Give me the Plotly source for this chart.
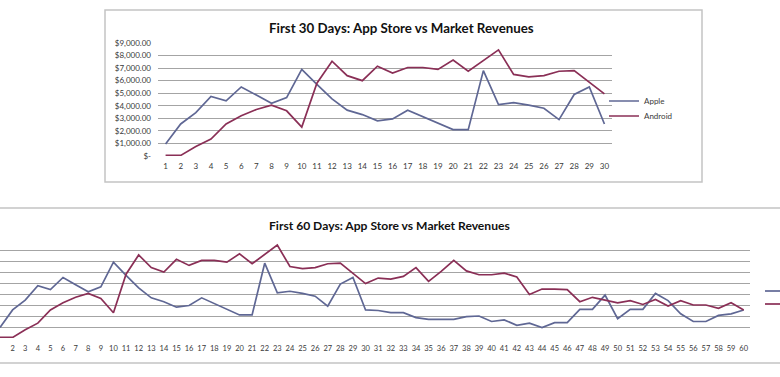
import plotly.graph_objects as go

W, H = 780, 377

days = list(range(1, 61))
apple = [950, 2550, 3450, 4750, 4400, 5500, 4850, 4200, 4650, 6900,
         5700, 4550, 3650, 3300, 2800, 2950, 3650, 3150, 2600, 2100,
         2100, 6800, 4100, 4250, 4050, 3800, 2900, 4900, 5500, 2550,
         2500, 2300, 2300, 1850, 1700, 1700, 1700, 1950, 2000, 1500,
         1650, 1150, 1350, 950, 1400, 1400, 2600, 2600, 3900, 1750,
         2600, 2600, 4050, 3400, 2200, 1500, 1500, 2050, 2200, 2550]
android = [50, 50, 750, 1350, 2550, 3200, 3700, 4050, 3600, 2300,
           5800, 7550, 6400, 6000, 7150, 6600, 7050, 7050, 6900, 7650,
           6750, 7600, 8450, 6500, 6300, 6400, 6750, 6800, 5900, 4950,
           5450, 5350, 5600, 6400, 5150, 6050, 7050, 6100, 5750, 5750,
           5900, 5550, 3950, 4450, 4450, 4400, 3300, 3700, 3450, 3200,
           3400, 3050, 3500, 2900, 3400, 3000, 3000, 2700, 3200, 2550]

ytick_vals = [0, 1000, 2000, 3000, 4000, 5000, 6000, 7000, 8000, 9000]
ytick_text = ["$-", "$1,000.00", "$2,000.00", "$3,000.00", "$4,000.00",
              "$5,000.00", "$6,000.00", "$7,000.00", "$8,000.00", "$9,000.00"]

title_30 = "First 30 Days: App Store vs Market Revenues"
title_60 = "First 60 Days: App Store vs Market Revenues"

APPLE_C = "#5f6794"
ANDROID_C = "#8a2f56"
GRID_C = "#a4a4a4"
FRAME_C = "#c4c4c4"
TXT_C = "#3a3a3a"
FONT = "Lato, 'Open Sans', sans-serif"


def px(x):
    return x / W


def py(y):
    return 1 - y / H


fig = go.Figure()

# Top chart (first 30 days)
fig.add_trace(go.Scatter(x=days[:30], y=apple[:30], mode="lines", name="Apple",
                         line=dict(color=APPLE_C, width=1.7),
                         xaxis="x", yaxis="y", legend="legend"))
fig.add_trace(go.Scatter(x=days[:30], y=android[:30], mode="lines", name="Android",
                         line=dict(color=ANDROID_C, width=1.7),
                         xaxis="x", yaxis="y", legend="legend2"))
# Bottom chart (first 60 days); its legend is cropped off at the right edge
fig.add_trace(go.Scatter(x=days, y=apple, mode="lines", name="Apple",
                         line=dict(color=APPLE_C, width=1.7),
                         xaxis="x2", yaxis="y2", showlegend=False))
fig.add_trace(go.Scatter(x=days, y=android, mode="lines", name="Android",
                         line=dict(color=ANDROID_C, width=1.7),
                         xaxis="x2", yaxis="y2", showlegend=False))

tickfont = dict(family=FONT, size=8, color=TXT_C)


def leg(xp, yp):
    return dict(x=px(xp), y=py(yp), xanchor="left", yanchor="middle",
                font=dict(family=FONT, size=8, color=TXT_C),
                bgcolor="rgba(0,0,0,0)", borderwidth=0, itemwidth=30)


def stub(y, color):
    # visible part of the cropped legend of the bottom chart
    return dict(type="line", xref="paper", yref="paper",
                x0=px(765), x1=px(790), y0=py(y), y1=py(y),
                line=dict(color=color, width=1.7))


fig.update_layout(
    width=W, height=H,
    showlegend=True,
    margin=dict(l=0, r=0, t=0, b=0, pad=0, autoexpand=False),
    paper_bgcolor="white", plot_bgcolor="white",
    font=dict(family=FONT, color=TXT_C),
    xaxis=dict(domain=[px(158), px(612)], range=[0.5, 30.5],
               tickvals=days[:30], ticks="", showgrid=False, zeroline=False,
               showline=False, tickfont=tickfont, ticklabelstandoff=4,
               anchor="y", fixedrange=True, automargin=False),
    yaxis=dict(domain=[py(156), py(43)], range=[0, 9000],
               tickvals=ytick_vals, ticktext=ytick_text, ticks="",
               showgrid=True, gridcolor=GRID_C, gridwidth=1,
               zeroline=False, showline=False, tickfont=tickfont,
               ticklabelstandoff=6, anchor="x", fixedrange=True, automargin=False),
    xaxis2=dict(domain=[0, px(750)], range=[1.0, 60.5],
                tickvals=days, ticks="", showgrid=False, zeroline=False,
                showline=False, tickfont=dict(family=FONT, size=7.5, color=TXT_C),
                ticklabelstandoff=4, anchor="y2", fixedrange=True, automargin=False),
    yaxis2=dict(domain=[py(338), py(239)], range=[0, 9000],
                tickvals=ytick_vals, showticklabels=False, ticks="",
                showgrid=True, gridcolor=GRID_C, gridwidth=1,
                zeroline=False, showline=False, anchor="x2", fixedrange=True,
                automargin=False),
    legend=leg(604, 101),
    legend2=leg(604, 116),
    shapes=[
        dict(type="rect", xref="paper", yref="paper",
             x0=px(105), x1=px(702), y0=py(182), y1=py(10),
             line=dict(color=FRAME_C, width=1.5), layer="below"),
        dict(type="rect", xref="paper", yref="paper",
             x0=px(-5), x1=px(785), y0=py(363), y1=py(208),
             line=dict(color=FRAME_C, width=1.5), layer="below"),
        stub(291, APPLE_C),
        stub(304, ANDROID_C),
    ],
    annotations=[
        dict(text="<b>" + title_30 + "</b>", xref="paper", yref="paper",
             x=px(402), y=py(28), xanchor="center", yanchor="middle",
             showarrow=False, font=dict(family=FONT, size=13.3, color="#111111")),
        dict(text="<b>" + title_60 + "</b>", xref="paper", yref="paper",
             x=px(389), y=py(225), xanchor="center", yanchor="middle",
             showarrow=False, font=dict(family=FONT, size=12.1, color="#111111")),
    ],
)

fig.write_html(
    "out.html",
    config={"displayModeBar": False, "staticPlot": True},
    post_script="document.body.style.margin='0px';document.body.style.overflow='hidden';",
)
